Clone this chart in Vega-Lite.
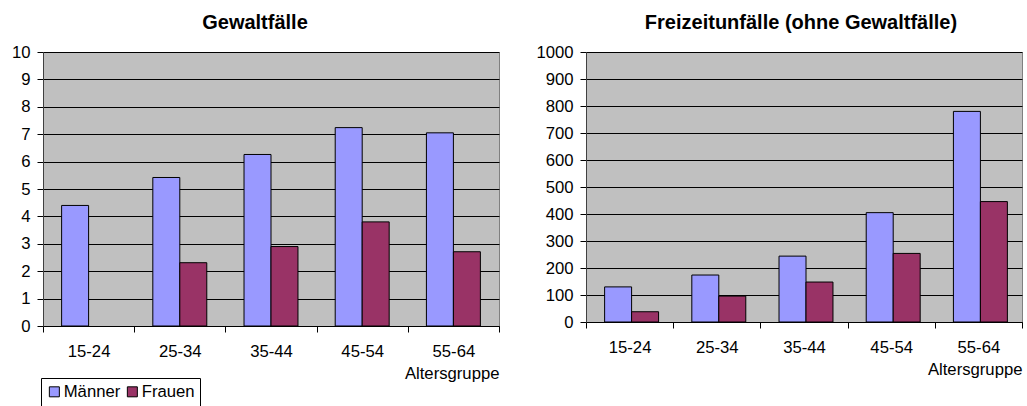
{
  "$schema": "https://vega.github.io/schema/vega-lite/v6.json",
  "background": "white",
  "padding": {"left": 10, "top": 12, "right": 0, "bottom": 0},
  "spacing": 35,
  "datasets": {
    "gewalt": [
      {"gruppe": "15-24", "geschlecht": "Männer", "wert": 4.4},
      {"gruppe": "25-34", "geschlecht": "Männer", "wert": 5.42},
      {"gruppe": "25-34", "geschlecht": "Frauen", "wert": 2.31},
      {"gruppe": "35-44", "geschlecht": "Männer", "wert": 6.26},
      {"gruppe": "35-44", "geschlecht": "Frauen", "wert": 2.9},
      {"gruppe": "45-54", "geschlecht": "Männer", "wert": 7.24},
      {"gruppe": "45-54", "geschlecht": "Frauen", "wert": 3.8},
      {"gruppe": "55-64", "geschlecht": "Männer", "wert": 7.05},
      {"gruppe": "55-64", "geschlecht": "Frauen", "wert": 2.71}
    ],
    "freizeit": [
      {"gruppe": "15-24", "geschlecht": "Männer", "wert": 130},
      {"gruppe": "15-24", "geschlecht": "Frauen", "wert": 38},
      {"gruppe": "25-34", "geschlecht": "Männer", "wert": 174},
      {"gruppe": "25-34", "geschlecht": "Frauen", "wert": 96},
      {"gruppe": "35-44", "geschlecht": "Männer", "wert": 244},
      {"gruppe": "35-44", "geschlecht": "Frauen", "wert": 148},
      {"gruppe": "45-54", "geschlecht": "Männer", "wert": 405},
      {"gruppe": "45-54", "geschlecht": "Frauen", "wert": 254},
      {"gruppe": "55-64", "geschlecht": "Männer", "wert": 780},
      {"gruppe": "55-64", "geschlecht": "Frauen", "wert": 446}
    ]
  },
  "config": {
    "font": "Liberation Sans",
    "view": {"fill": "#C0C0C0", "stroke": "#808080", "strokeWidth": 1},
    "axis": {
      "labelFont": "Liberation Sans", "labelFontSize": 16.7, "labelColor": "#000",
      "tickColor": "#000", "domainColor": "#000", "tickSize": 6,
      "titleFont": "Liberation Sans", "titleFontSize": 16.7, "titleFontWeight": "normal", "titleColor": "#000",
      "gridColor": "#000", "gridOpacity": 1, "gridWidth": 1
    },
    "title": {"font": "Liberation Sans", "fontSize": 20, "fontWeight": "bold", "color": "#000", "offset": 11},
    "legend": {
      "labelFont": "Liberation Sans", "labelFontSize": 16.7, "labelColor": "#000"
    }
  },
  "hconcat": [
    {
      "width": 456,
      "height": 274,
      "title": {"text": "Gewaltfälle", "dx": -16},
      "data": {"name": "gewalt"},
      "mark": {"type": "bar", "stroke": "#000", "strokeWidth": 1, "opacity": 1},
      "encoding": {
        "x": {
          "field": "gruppe", "type": "nominal",
          "scale": {"paddingInner": 0, "paddingOuter": 0},
          "axis": {"title": "Altersgruppe", "titleAnchor": "end", "labelAngle": 0, "tickBand": "extent", "labelPadding": 11, "grid": false, "titlePadding": 6}
        },
        "xOffset": {
          "field": "geschlecht", "type": "nominal", "sort": ["Männer", "Frauen"],
          "scale": {"domain": ["Männer", "Frauen"], "paddingInner": 0, "paddingOuter": 0.69}
        },
        "y": {
          "field": "wert", "type": "quantitative",
          "scale": {"domain": [0, 10], "nice": false},
          "axis": {"title": null, "values": [0, 1, 2, 3, 4, 5, 6, 7, 8, 9, 10], "format": "d", "grid": true, "labelPadding": 7, "domainColor": "#404040"}
        },
        "color": {
          "field": "geschlecht", "type": "nominal", "sort": ["Männer", "Frauen"],
          "scale": {"domain": ["Männer", "Frauen"], "range": ["#9999FF", "#993366"]},
          "legend": {
            "orient": "none", "legendX": -2, "legendY": 326, "direction": "horizontal", "title": null,
            "strokeColor": "#000", "padding": 5, "symbolType": "square", "symbolSize": 100,
            "symbolStrokeColor": "#000", "symbolStrokeWidth": 1, "symbolOpacity": 1,
            "labelOffset": 1, "columnPadding": 3
          }
        }
      }
    },
    {
      "width": 436,
      "height": 270,
      "title": {"text": "Freizeitunfälle (ohne Gewaltfälle)", "dx": -3},
      "data": {"name": "freizeit"},
      "mark": {"type": "bar", "stroke": "#000", "strokeWidth": 1, "opacity": 1},
      "encoding": {
        "x": {
          "field": "gruppe", "type": "nominal",
          "scale": {"paddingInner": 0, "paddingOuter": 0},
          "axis": {"title": "Altersgruppe", "titleAnchor": "end", "labelAngle": 0, "tickBand": "extent", "labelPadding": 11, "grid": false, "titlePadding": 6}
        },
        "xOffset": {
          "field": "geschlecht", "type": "nominal", "sort": ["Männer", "Frauen"],
          "scale": {"domain": ["Männer", "Frauen"], "paddingInner": 0, "paddingOuter": 0.69}
        },
        "y": {
          "field": "wert", "type": "quantitative",
          "scale": {"domain": [0, 1000], "nice": false},
          "axis": {"title": null, "values": [0, 100, 200, 300, 400, 500, 600, 700, 800, 900, 1000], "format": "d", "grid": true, "labelPadding": 7, "domainColor": "#404040"}
        },
        "color": {
          "field": "geschlecht", "type": "nominal", "sort": ["Männer", "Frauen"],
          "scale": {"domain": ["Männer", "Frauen"], "range": ["#9999FF", "#993366"]},
          "legend": null
        }
      }
    }
  ],
  "resolve": {"legend": {"color": "independent"}}
}
